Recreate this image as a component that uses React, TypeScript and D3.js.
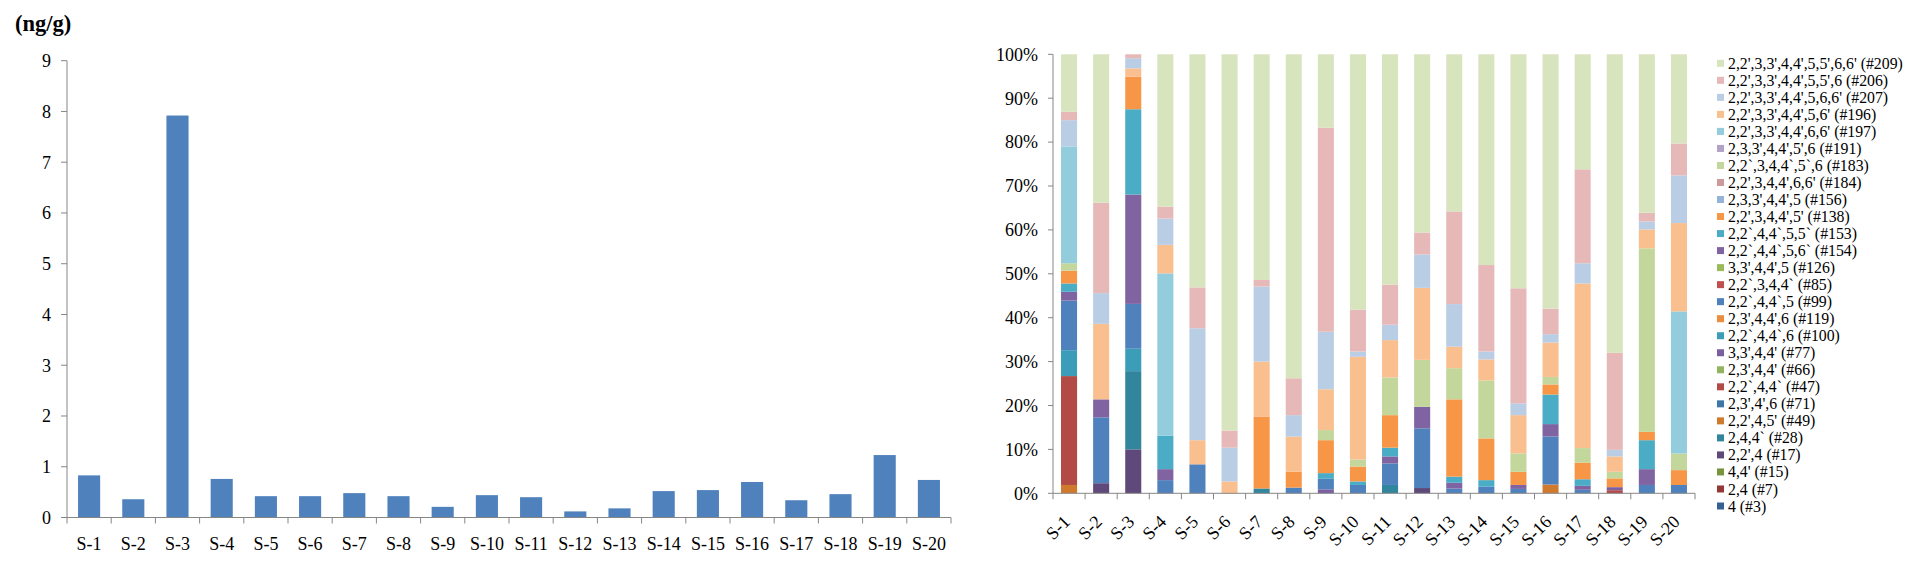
import React from "react";
import * as d3 from "d3";

// sample sites
const samples = ["S-1", "S-2", "S-3", "S-4", "S-5", "S-6", "S-7", "S-8", "S-9", "S-10",
  "S-11", "S-12", "S-13", "S-14", "S-15", "S-16", "S-17", "S-18", "S-19", "S-20"];

// total PCB concentration (ng/g)
const totalConc = [0.83, 0.36, 7.92, 0.76, 0.42, 0.42, 0.48, 0.42, 0.21, 0.44,
  0.40, 0.12, 0.18, 0.52, 0.54, 0.70, 0.34, 0.46, 1.23, 0.74];
const concTicks = [0, 1, 2, 3, 4, 5, 6, 7, 8, 9];
const pctTicks = [0, 0.1, 0.2, 0.3, 0.4, 0.5, 0.6, 0.7, 0.8, 0.9, 1];

// congener profile (% of total) per sample, S-1 .. S-20
const pcb3 = [0, 0, 0, 0, 0, 0, 0, 0, 0, 0, 0, 0, 0, 0, 0, 0, 0, 0, 0, 0];
const pcb7 = [0, 0, 0, 0, 0, 0, 0, 0, 0, 0, 0, 0, 0, 0, 0, 0, 0, 0, 0, 0];
const pcb15 = [0, 0, 0, 0, 0, 0, 0, 0, 0, 0, 0, 0, 0, 0, 0, 0, 0, 0, 0, 0];
const pcb17 = [0, 2.3, 10.0, 0, 0, 0, 0, 0, 0, 0, 0, 1.2, 0, 0, 0, 0, 0, 0, 0, 0];
const pcb28 = [0, 0, 17.8, 0, 0, 0, 1.1, 0, 0, 0, 1.9, 0, 0, 0, 0, 0, 0, 0, 0, 0];
const pcb49 = [1.9, 0, 0, 0, 0, 0, 0, 0, 0, 0, 0, 0, 0, 0, 0, 2.0, 0, 0, 0, 0];
const pcb71 = [0, 0, 0, 0, 0, 0, 0, 0, 0, 0, 0, 0, 0, 0, 0, 0, 0, 0, 0, 0];
const pcb47 = [24.8, 0, 0, 0, 0, 0, 0, 0, 0, 0, 0, 0, 0, 0, 0, 0, 0, 0.7, 0, 0];
const pcb66 = [0, 0, 0, 0, 0, 0, 0, 0, 0, 0, 0, 0, 0, 0, 0, 0, 0, 0, 0, 0];
const pcb77 = [0, 0, 0, 0, 0, 0, 0, 0, 0.9, 0, 0, 0, 0, 0, 0, 0, 0, 0.7, 0, 0];
const pcb100 = [5.9, 0, 5.1, 0, 0, 0, 0, 0, 0, 0, 0, 0, 0, 0, 0, 0, 0, 0, 0, 0];
const pcb119 = [0, 0, 0, 0, 0, 0, 0, 0, 0, 0, 0, 0, 0, 0, 0, 0, 0, 0, 0, 0];
const pcb99 = [11.3, 15.0, 10.2, 3.0, 6.6, 0, 0, 1.3, 2.4, 1.9, 4.9, 13.6, 1.1, 1.5, 1.0, 10.9, 0.8, 0, 1.9, 1.9];
const pcb85 = [0, 0, 0, 0, 0, 0, 0, 0, 0, 0, 0, 0, 0, 0, 0, 0, 0, 0, 0, 0];
const pcb126 = [0, 0, 0, 0, 0, 0, 0, 0, 0, 0, 0, 0, 0, 0, 0, 0, 0, 0, 0, 0];
const pcb154 = [2.0, 4.1, 24.9, 2.5, 0, 0, 0, 0, 0, 0, 1.6, 4.9, 1.3, 0, 0.9, 2.8, 0.9, 0, 3.6, 0];
const pcb153 = [1.9, 0, 19.4, 7.6, 0, 0, 0, 0, 1.3, 0.8, 2.0, 0, 1.4, 1.5, 0, 6.7, 1.5, 0, 6.6, 0];
const pcb138 = [2.9, 0, 7.4, 0, 0, 0, 16.4, 3.6, 7.5, 3.4, 7.4, 0, 17.6, 9.5, 3.0, 2.3, 3.8, 2.0, 1.9, 3.4];
const pcb156 = [0, 0, 0, 0, 0, 0, 0, 0, 0, 0, 0, 0, 0, 0, 0, 0, 0, 0, 0, 0];
const pcb184 = [0, 0, 0, 0, 0, 0, 0, 0, 0, 0, 0, 0, 0, 0, 0, 0, 0, 0, 0, 0];
const pcb183 = [1.7, 0, 0, 0, 0, 0, 0, 0, 2.3, 1.6, 8.6, 10.7, 7.1, 13.2, 4.2, 1.7, 3.3, 1.5, 41.8, 3.8];
const pcb191 = [0, 0, 0, 0, 0, 0, 0, 0, 0, 0, 0, 0, 0, 0, 0, 0, 0, 0, 0, 0];
const pcb197 = [26.6, 0, 0, 37.0, 0, 0, 0, 0, 0, 0, 0, 0, 0, 0, 0, 0, 0, 0, 0, 32.5];
const pcb196 = [0, 17.2, 1.9, 6.5, 5.5, 2.7, 12.5, 8.0, 9.3, 23.4, 8.5, 16.4, 4.9, 4.8, 8.7, 7.8, 37.5, 3.5, 4.3, 20.2];
const pcb207 = [6.0, 7.0, 2.3, 6.0, 25.5, 7.7, 17.1, 4.9, 13.1, 1.2, 3.5, 7.6, 9.7, 1.8, 2.7, 1.9, 4.6, 1.5, 1.8, 10.9];
const pcb206 = [1.9, 20.6, 0.9, 2.7, 9.3, 3.9, 1.5, 8.4, 46.5, 9.5, 9.1, 5.0, 21.1, 19.7, 26.2, 5.8, 21.4, 22.1, 2.0, 7.3];
const pcb209 = [13.1, 33.8, 0, 34.7, 53.1, 85.7, 51.4, 73.8, 16.7, 58.2, 52.5, 40.6, 35.8, 48.0, 53.3, 57.7, 26.2, 68.0, 36.1, 20.4];

// stacking order, bottom -> top
const congenerKeys = ["#3", "#7", "#15", "#17", "#28", "#49", "#71", "#47", "#66", "#77", "#100", "#119", "#99", "#85",
  "#126", "#154", "#153", "#138", "#156", "#184", "#183", "#191", "#197", "#196", "#207", "#206", "#209"];
const congenerValues = [pcb3, pcb7, pcb15, pcb17, pcb28, pcb49, pcb71, pcb47, pcb66, pcb77, pcb100, pcb119, pcb99, pcb85,
  pcb126, pcb154, pcb153, pcb138, pcb156, pcb184, pcb183, pcb191, pcb197, pcb196, pcb207, pcb206, pcb209];
const congenerLabels = ["4 (#3)", "2,4 (#7)", "4,4' (#15)", "2,2',4 (#17)", "2,4,4` (#28)", "2,2',4,5' (#49)",
  "2,3',4',6 (#71)", "2,2`,4,4`  (#47)", "2,3',4,4' (#66)", "3,3',4,4' (#77)", "2,2`,4,4`,6 (#100)",
  "2,3',4,4',6 (#119)", "2,2`,4,4`,5 (#99)", "2,2`,3,4,4`  (#85)", "3,3',4,4',5 (#126)", "2,2`,4,4`,5,6` (#154)",
  "2,2`,4,4`,5,5` (#153)", "2,2',3,4,4',5' (#138)", "2,3,3',4,4',5 (#156)", "2,2',3,4,4',6,6' (#184)",
  "2,2`,3,4,4`,5`,6 (#183)", "2,3,3',4,4',5',6 (#191)", "2,2',3,3',4,4',6,6' (#197)", "2,2',3,3',4,4',5,6' (#196)",
  "2,2',3,3',4,4',5,6,6' (#207)", "2,2',3,3',4,4',5,5',6 (#206)", "2,2',3,3',4,4',5,5',6,6' (#209)"];
const congenerColors = ["#376092", "#953735", "#77933c", "#5f497a", "#31859c", "#d07a2e", "#3d78a8", "#b24a46",
  "#93b35e", "#7c5fa0", "#3c9db8", "#ec8c3c", "#4f81bd", "#c0504d", "#9bbb59", "#8064a2", "#4bacc6", "#f79646",
  "#95b3d7", "#cd9a99", "#c3d69b", "#b3a2c7", "#93cddd", "#fabf8f", "#b9cde5", "#e6b9b8", "#d7e4bd"];

const FONT = "'Liberation Serif', 'Times New Roman', serif";
const AXIS = "#868686";

export default function App() {
  // left: total concentration
  const xL = d3.scaleBand<string>().domain(samples).range([67, 951]).paddingInner(0.5).paddingOuter(0.25);
  const yL = d3.scaleLinear().domain([0, 9]).range([517.5, 60.7]);
  const stepL = xL.step();

  // right: composition
  const xR = d3.scaleBand<string>().domain(samples).range([1053, 1695]).paddingInner(0.5).paddingOuter(0.25);
  const yR = d3.scaleLinear().domain([0, 1]).range([493.3, 54.3]);
  const stepR = xR.step();

  const rows = samples.map((s, i) => {
    const r: Record<string, number | string> = { sample: s };
    congenerKeys.forEach((k, j) => (r[k] = congenerValues[j][i]));
    return r;
  });
  const stacked = d3.stack<any>().keys(congenerKeys).offset(d3.stackOffsetExpand)(rows);
  const color = d3.scaleOrdinal<string, string>().domain(congenerKeys).range(congenerColors);

  const legendY = d3.scaleLinear().domain([congenerKeys.length - 1, 0]).range([63.3, 506]);

  return (
    <svg width={1920} height={570} style={{ position: "absolute", left: 0, top: 0, background: "#fff", fontFamily: FONT }}>
      {/* ---------- left chart ---------- */}
      <text x={15} y={31} fontSize={22.5} fontWeight="bold">(ng/g)</text>
      {samples.map((s, i) => (
        <rect key={s} x={xL(s)} y={yL(totalConc[i])} width={xL.bandwidth()}
          height={yL(0) - yL(totalConc[i])} fill="#4f81bd" />
      ))}
      <line x1={67} x2={67} y1={yL(9)} y2={yL(0)} stroke={AXIS} />
      <line x1={67} x2={951} y1={yL(0)} y2={yL(0)} stroke={AXIS} />
      {concTicks.map((t) => (
        <g key={t}>
          <line x1={61} x2={67} y1={yL(t)} y2={yL(t)} stroke={AXIS} />
          <text x={51} y={yL(t)} dy="0.35em" textAnchor="end" fontSize={18}>{t}</text>
        </g>
      ))}
      {d3.range(samples.length + 1).map((i) => (
        <line key={i} x1={67 + i * stepL} x2={67 + i * stepL} y1={yL(0)} y2={yL(0) + 6} stroke={AXIS} />
      ))}
      {samples.map((s) => (
        <text key={s} x={xL(s)! + xL.bandwidth() / 2} y={550} textAnchor="middle" fontSize={18}>{s}</text>
      ))}

      {/* ---------- right chart ---------- */}
      {stacked.map((layer) => (
        <g key={layer.key} fill={color(layer.key)}>
          {layer.map((d, i) => (
            <rect key={i} x={xR(samples[i])} y={yR(d[1])} width={xR.bandwidth()}
              height={Math.max(0, yR(d[0]) - yR(d[1]))} />
          ))}
        </g>
      ))}
      <line x1={1053} x2={1053} y1={yR(1)} y2={yR(0)} stroke={AXIS} />
      <line x1={1053} x2={1695} y1={yR(0)} y2={yR(0)} stroke={AXIS} />
      {pctTicks.map((t) => (
        <g key={t}>
          <line x1={1048} x2={1053} y1={yR(t)} y2={yR(t)} stroke={AXIS} />
          <text x={1038} y={yR(t)} dy="0.35em" textAnchor="end" fontSize={18}>{d3.format(".0%")(t)}</text>
        </g>
      ))}
      {d3.range(samples.length + 1).map((i) => (
        <line key={i} x1={1053 + i * stepR} x2={1053 + i * stepR} y1={yR(0)} y2={yR(0) + 6} stroke={AXIS} />
      ))}
      {samples.map((s) => {
        const cx = xR(s)! + xR.bandwidth() / 2 + 2;
        return (
          <text key={s} transform={`translate(${cx},${523}) rotate(-45)`} textAnchor="end" fontSize={18}>{s}</text>
        );
      })}

      {/* legend */}
      {congenerKeys.map((k, j) => (
        <g key={k} transform={`translate(1717,${legendY(j)})`}>
          <rect x={0} y={-3.5} width={7} height={7} fill={color(k)} />
          <text x={11} y={0} dy="0.35em" fontSize={15.8}>{congenerLabels[j]}</text>
        </g>
      ))}
    </svg>
  );
}
